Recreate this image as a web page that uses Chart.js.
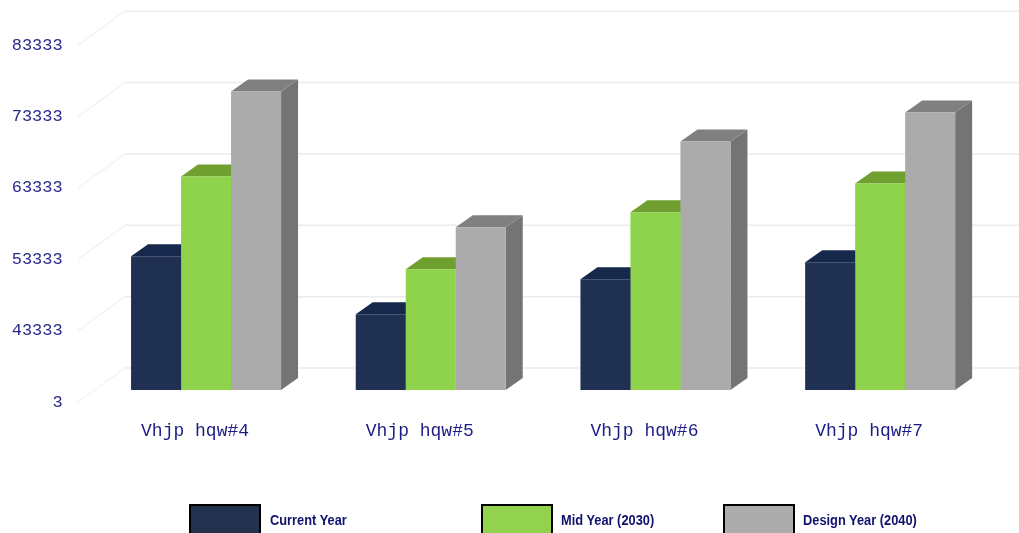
<!DOCTYPE html>
<html><head><meta charset="utf-8">
<script src="https://cdn.jsdelivr.net/npm/chart.js@4"></script>
<style>
html,body{margin:0;padding:0;background:#fff;overflow:hidden}
#wrap{position:relative;width:1019px;height:533px;overflow:hidden}
.key{position:absolute;top:504px;width:72px;height:31px;box-sizing:border-box;border:2px solid #000}
.lab{position:absolute;top:511px;font:bold 14.5px "Liberation Sans",sans-serif;color:#12126e;white-space:nowrap;line-height:18px;transform:scaleX(.885);transform-origin:left center}
</style></head>
<body><div id="wrap"><canvas id="c" width="1019" height="533"></canvas></div>
<script>
const categories = ["Vhjp hqw#4","Vhjp hqw#5","Vhjp hqw#6","Vhjp hqw#7"];
const seriesNames = ["Current Year","Mid Year (2030)","Design Year (2040)"];
const currentYear = [18740,10630,15520,17900];
const midYear = [29930,16920,24900,28950];
const designYear = [41820,22800,34830,38880];
const tickValues = [0,10000,20000,30000,40000,50000];
const tickLabels = ["3","43333","53333","63333","73333","83333"];
const frontColors = ["#1f3052","#8fd24b","#ababab"];
const keyColors = ["#22324f","#92d24c","#acacac"];
const topColors = ["#16284c","#6f9f2e","#808080"];
const sideColors = ["#16284c","#6f9f2e","#747474"];
const legendBoxX = [189,481,723];
const legendTextX = [270,561,803];
const DX=17, DY=12;

const depthPlugin = {
  id:'depth',
  beforeDatasetsDraw(chart){
    const ctx=chart.ctx, y=chart.scales.y;
    ctx.save();
    ctx.lineWidth=1.5;
    y.ticks.forEach(t=>{
      const p=y.getPixelForValue(t.value);
      ctx.strokeStyle='#f3f3f3';
      ctx.beginPath();ctx.moveTo(78,p+12);ctx.lineTo(125,p-22);ctx.stroke();
      ctx.strokeStyle='#ebebeb';
      ctx.beginPath();ctx.moveTo(125,p-22);ctx.lineTo(1019,p-22);ctx.stroke();
    });
    chart.data.datasets.forEach((ds,i)=>{
      chart.getDatasetMeta(i).data.forEach(b=>{
        const l=b.x-b.width/2, r=b.x+b.width/2, t=b.y, base=b.base;
        ctx.fillStyle=sideColors[i];
        ctx.beginPath();ctx.moveTo(r,t);ctx.lineTo(r+DX,t-DY);ctx.lineTo(r+DX,base-DY);ctx.lineTo(r,base);ctx.closePath();ctx.fill();
        ctx.fillStyle=topColors[i];
        ctx.beginPath();ctx.moveTo(l,t);ctx.lineTo(l+DX,t-DY);ctx.lineTo(r+DX,t-DY);ctx.lineTo(r,t);ctx.closePath();ctx.fill();
      });
    });
    ctx.restore();
  }
};

new Chart(document.getElementById('c'),{
  type:'bar',
  data:{labels:categories,datasets:[
    {label:seriesNames[0],data:currentYear,backgroundColor:frontColors[0]},
    {label:seriesNames[1],data:midYear,backgroundColor:frontColors[1]},
    {label:seriesNames[2],data:designYear,backgroundColor:frontColors[2]}
  ]},
  options:{
    responsive:false,animation:false,
    layout:{padding:{top:23.5,right:26.5,left:0,bottom:0},autoPadding:true},
    plugins:{legend:{display:false},tooltip:{enabled:false},title:{display:false}},
    datasets:{bar:{barPercentage:1,categoryPercentage:0.6675}},
    scales:{
      x:{
        grid:{display:false},border:{display:false},
        ticks:{font:{family:'"Liberation Mono"',size:18},color:'#1c1c86',padding:22,labelOffset:-11,maxRotation:0,autoSkip:false},
        afterFit(s){s.height=143;}
      },
      y:{
        min:0,max:50000,
        grid:{display:false},border:{display:false},
        afterBuildTicks(s){s.ticks=tickValues.map(v=>({value:v}));},
        ticks:{
          font:{family:'"Liberation Mono"',size:17},color:'#2a2a8c',padding:23,labelOffset:12,
          callback(v){return tickLabels[tickValues.indexOf(v)];}
        },
        afterFit(s){s.width=93.7;}
      }
    }
  },
  plugins:[depthPlugin]
});

const wrap=document.getElementById('wrap');
seriesNames.forEach((n,i)=>{
  const k=document.createElement('div');k.className='key';k.style.left=legendBoxX[i]+'px';k.style.background=keyColors[i];wrap.appendChild(k);
  const t=document.createElement('div');t.className='lab';t.style.left=legendTextX[i]+'px';t.textContent=n;wrap.appendChild(t);
});
</script></body></html>
